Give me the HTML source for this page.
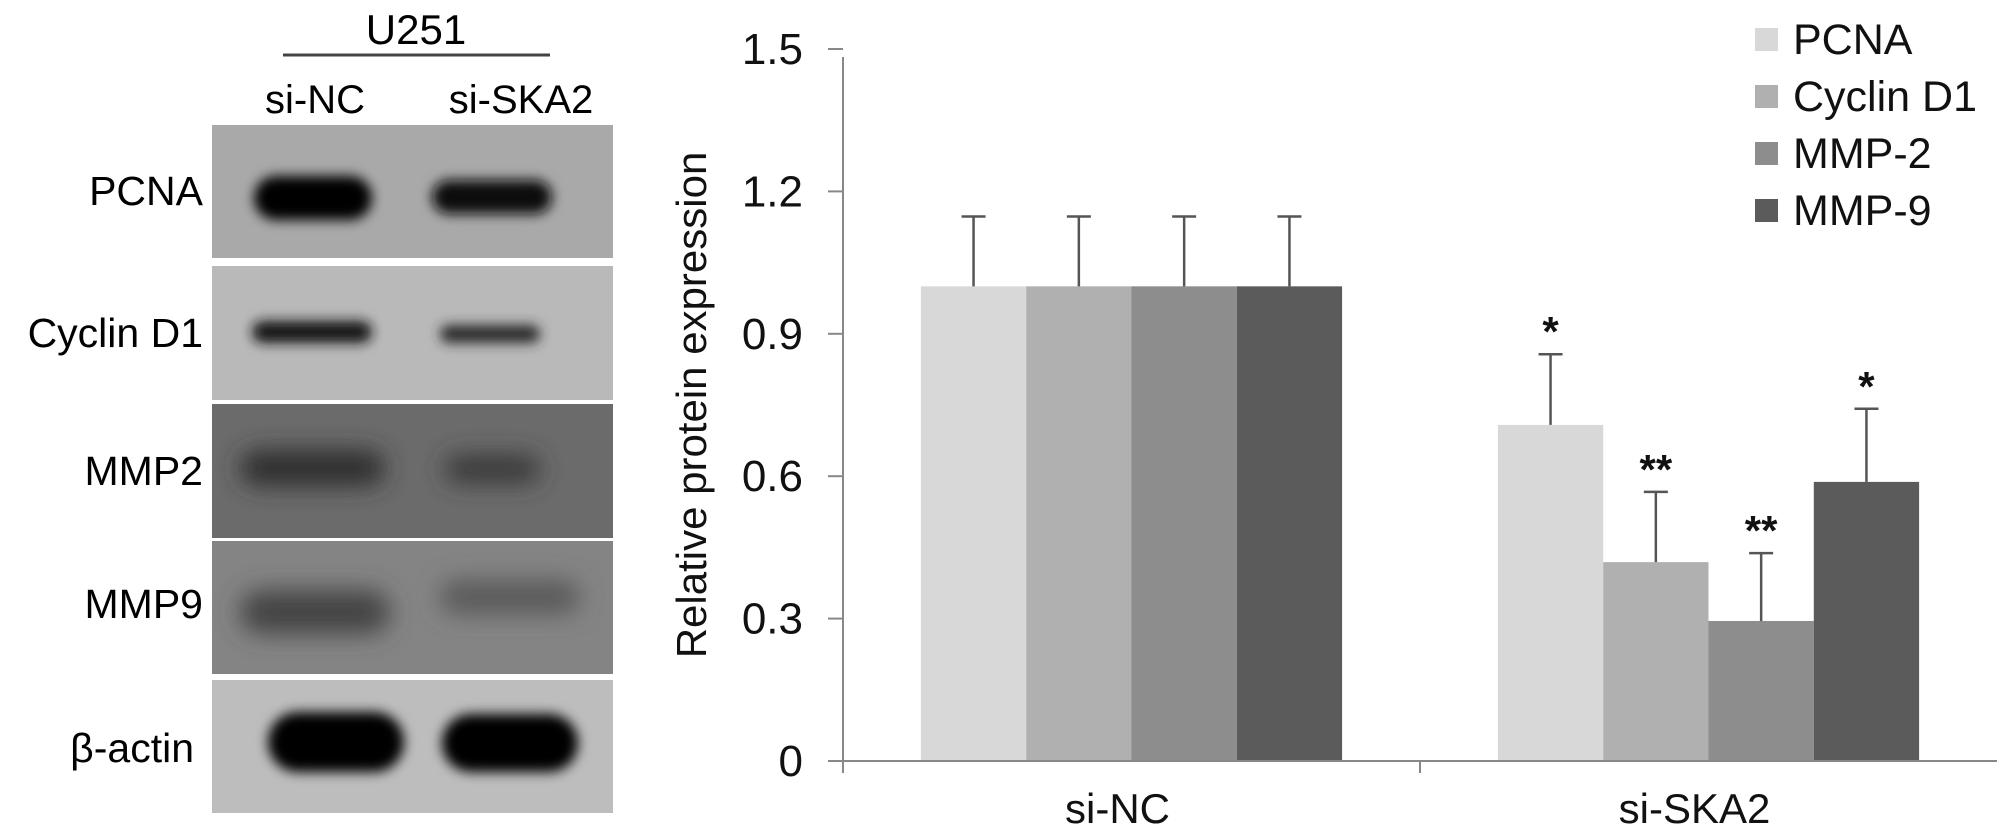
<!DOCTYPE html>
<html><head><meta charset="utf-8"><style>
html,body{margin:0;padding:0;background:#fff;}
svg{display:block;font-family:"Liberation Sans",Arial,sans-serif;}
</style></head><body>
<svg id="fig" width="2008" height="836" viewBox="0 0 2008 836">
<defs>
<filter id="blur6" x="-30%" y="-80%" width="160%" height="260%"><feGaussianBlur stdDeviation="6"/></filter>
<filter id="blur12" x="-30%" y="-80%" width="160%" height="260%"><feGaussianBlur stdDeviation="12"/></filter>
</defs>
<g>
<text x="416" y="44" font-size="42" text-anchor="middle">U251</text>
<line x1="283" y1="55" x2="550" y2="55" stroke="#444" stroke-width="3"/>
<text x="315" y="113" font-size="40" text-anchor="middle">si-NC</text>
<text x="521" y="113" font-size="40" text-anchor="middle">si-SKA2</text>
<rect x="212" y="125" width="401" height="133" fill="#a9a9a9"/>
<rect x="212" y="266" width="401" height="134" fill="#b9b9b9"/>
<rect x="212" y="404" width="401" height="134" fill="#6b6b6b"/>
<rect x="212" y="541" width="401" height="133" fill="#848484"/>
<rect x="212" y="680" width="401" height="133" fill="#bdbdbd"/>
<g filter="url(#blur6)">
<rect x="254" y="176" width="118" height="44" rx="22" fill="#050505"/>
<rect x="432" y="180" width="120" height="34" rx="17" fill="#080808"/>
<rect x="252" y="321" width="120" height="22" rx="11" fill="#151515"/>
<rect x="440" y="325" width="100" height="18" rx="9" fill="#2a2a2a"/>
<rect x="268" y="712" width="136" height="60" rx="30" fill="#000"/>
<rect x="442" y="714" width="136" height="58" rx="29" fill="#000"/>
</g>
<g filter="url(#blur12)">
<rect x="240" y="450" width="145" height="36" rx="18" fill="#2e2e2e"/>
<rect x="445" y="455" width="95" height="28" rx="14" fill="#383838"/>
<rect x="240" y="590" width="150" height="44" rx="22" fill="#444"/>
<rect x="440" y="580" width="140" height="34" rx="17" fill="#5a5a5a"/>
</g>
<text x="203" y="205" font-size="41" text-anchor="end">PCNA</text>
<text x="203" y="347" font-size="41" text-anchor="end">Cyclin D1</text>
<text x="203" y="485" font-size="41" text-anchor="end">MMP2</text>
<text x="203" y="618" font-size="41" text-anchor="end">MMP9</text>
<text x="194" y="762" font-size="41" text-anchor="end">β-actin</text>
</g>
<g id="chart"></g>
</svg>
<script>
const categories = ["si-NC", "si-SKA2"];
const seriesNames = ["PCNA", "Cyclin D1", "MMP-2", "MMP-9"];
const seriesColors = ["#d8d8d8", "#b0b0b0", "#8d8d8d", "#5b5b5b"];
const pcnaValues = [1.0, 0.708];
const cyclinValues = [1.0, 0.419];
const mmp2Values = [1.0, 0.295];
const mmp9Values = [1.0, 0.588];
const pcnaErrors = [0.147, 0.149];
const cyclinErrors = [0.147, 0.148];
const mmp2Errors = [0.147, 0.143];
const mmp9Errors = [0.147, 0.154];
const pcnaStars = ["", "*"];
const cyclinStars = ["", "**"];
const mmp2Stars = ["", "**"];
const mmp9Stars = ["", "*"];
const yTicks = [0, 0.3, 0.6, 0.9, 1.2, 1.5];
const yTickLabels = ["0", "0.3", "0.6", "0.9", "1.2", "1.5"];

const values = [pcnaValues, cyclinValues, mmp2Values, mmp9Values];
const errors = [pcnaErrors, cyclinErrors, mmp2Errors, mmp9Errors];
const stars = [pcnaStars, cyclinStars, mmp2Stars, mmp9Stars];

const NS = "http://www.w3.org/2000/svg";
const g = document.getElementById("chart");
const X0 = 843, X1 = 1997, Y0 = 761, YTOP = 49, YMAX = 1.5;
const yScale = v => Y0 - (v / YMAX) * (Y0 - YTOP);
const catW = (X1 - X0) / categories.length;
const catCenter = i => X0 + catW * (i + 0.5);
const barW = 105.3;
const barX = (ci, si) => catCenter(ci) - barW * seriesNames.length / 2 + si * barW;

function mk(tag, attrs) {
  const e = document.createElementNS(NS, tag);
  for (const k in attrs) e.setAttribute(k, attrs[k]);
  g.appendChild(e);
  return e;
}

for (let ci = 0; ci < categories.length; ci++) {
  for (let si = 0; si < seriesNames.length; si++) {
    const v = values[si][ci];
    const r = mk("rect", {x: barX(ci, si), y: yScale(v), width: barW, height: Y0 - yScale(v), fill: seriesColors[si]});
    
    
  }
}
for (let ci = 0; ci < categories.length; ci++) {
  for (let si = 0; si < seriesNames.length; si++) {
    const v = values[si][ci], e = errors[si][ci];
    const cx = barX(ci, si) + barW / 2;
    const top = yScale(v + e);
    const l = mk("line", {x1: cx, y1: yScale(v), x2: cx, y2: top, stroke: "#555", "stroke-width": 2.5});
    
    
    const c = mk("line", {x1: cx - 12, y1: top, x2: cx + 12, y2: top, stroke: "#555", "stroke-width": 2.5});
    
    
    if (stars[si][ci]) {
      const t = mk("text", {x: cx, y: top - 8, "font-size": 42, "font-weight": "bold", "text-anchor": "middle", fill: "#111"});
      t.textContent = stars[si][ci];
      
      
    }
  }
}
const ya = mk("line", {x1: X0, y1: YTOP + 8, x2: X0, y2: Y0 + 12, stroke: "#888", "stroke-width": 2});


const xa = mk("line", {x1: X0 - 15, y1: Y0, x2: X1, y2: Y0, stroke: "#888", "stroke-width": 2});


for (let i = 0; i < yTicks.length; i++) {
  const y = yScale(yTicks[i]);
  const t = mk("line", {x1: X0 - 15, y1: y, x2: X0, y2: y, stroke: "#888", "stroke-width": 2});
  
  
  const lb = mk("text", {x: 803, y: y + 15, "font-size": 44, "text-anchor": "end", fill: "#111"});
  lb.textContent = yTickLabels[i];
  
  
}
for (let i = 1; i < categories.length; i++) {
  const x = X0 + catW * i;
  const t = mk("line", {x1: x, y1: Y0, x2: x, y2: Y0 + 12, stroke: "#888", "stroke-width": 2});
  
  
}
for (let ci = 0; ci < categories.length; ci++) {
  const lb = mk("text", {x: catCenter(ci) - 14, y: 823, "font-size": 42, "text-anchor": "middle", fill: "#111"});
  lb.textContent = categories[ci];
  
  
}
const yt = mk("text", {x: 0, y: 0, "font-size": 42, "text-anchor": "middle", fill: "#111", transform: "translate(706,405) rotate(-90)"});
yt.textContent = "Relative protein expression";


for (let si = 0; si < seriesNames.length; si++) {
  const cy = 39 + si * 57;
  const sw = mk("rect", {x: 1755, y: cy - 11, width: 23, height: 23, fill: seriesColors[si]});
  
  
  const t = mk("text", {x: 1793, y: cy + 15, "font-size": 43, fill: "#111"});
  t.textContent = seriesNames[si];
  
  
}
</script>
</body></html>
